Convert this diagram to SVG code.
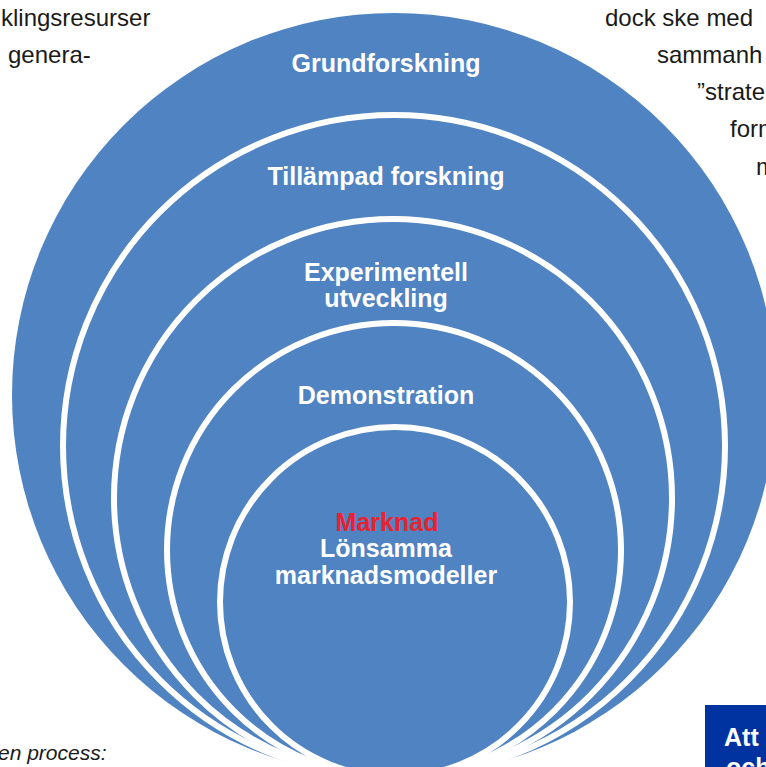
<svg xmlns="http://www.w3.org/2000/svg" width="766" height="767" viewBox="0 0 766 767">
  <style>
    .ring { fill: #4F83C2; stroke: #FFFFFF; stroke-width: 6; }
    .outer { fill: #4F83C2; stroke: none; }
    .label { font-family: "Liberation Sans", Arial, sans-serif; font-weight: bold; font-size: 25px; fill: #FFFFFF; text-anchor: middle; }
    .red { fill: #E8232F; }
    .body { font-family: "Liberation Sans", Arial, sans-serif; font-size: 24px; fill: #1A1A1A; }
    .caption { font-size: 21px; font-style: italic; }
    .box-text { font-family: "Liberation Sans", Arial, sans-serif; font-weight: bold; font-size: 25px; fill: #FFFFFF; }
  </style>

  <rect width="766" height="767" fill="#FFFFFF"/>

  <!-- surrounding body text -->
  <g id="body-text">
    <text class="body" x="1" y="26">klingsresurser</text>
    <text class="body" x="8" y="63">genera-</text>
    <text class="body" x="605" y="26">dock ske med</text>
    <text class="body" x="657" y="63">sammanh</text>
    <text class="body" x="697" y="100">”strate</text>
    <text class="body" x="730" y="137">form</text>
    <text class="body" x="756" y="175">m</text>
    <text class="body caption" x="-2" y="760">en process:</text>
  </g>

  <!-- nested circles, all touching at the bottom -->
  <g id="grundforskning">
    <circle class="outer" cx="394" cy="395" r="382"/>
    <text class="label" x="386" y="72">Grundforskning</text>
  </g>
  <g id="tillampad-forskning">
    <circle class="ring" cx="394" cy="446" r="331"/>
    <text class="label" x="386" y="185">Tillämpad forskning</text>
  </g>
  <g id="experimentell-utveckling">
    <circle class="ring" cx="393" cy="498" r="279"/>
    <text class="label" x="386" y="281">Experimentell</text>
    <text class="label" x="386" y="307">utveckling</text>
  </g>
  <g id="demonstration">
    <circle class="ring" cx="394" cy="550" r="227"/>
    <text class="label" x="386" y="404">Demonstration</text>
  </g>
  <g id="marknad">
    <circle class="ring" cx="395" cy="602" r="175"/>
    <text class="label red" x="387" y="531">Marknad</text>
    <text class="label" x="386" y="557">Lönsamma</text>
    <text class="label" x="386" y="584">marknadsmodeller</text>
  </g>

  <!-- no connectors in this figure -->
  <g id="connectors"/>

  <!-- fact box heading -->
  <g id="fact-box">
    <rect x="705" y="705" width="70" height="70" fill="#0033A0"/>
    <text class="box-text" x="724" y="746">Att</text>
    <text class="box-text" x="726" y="776">och</text>
  </g>
</svg>
